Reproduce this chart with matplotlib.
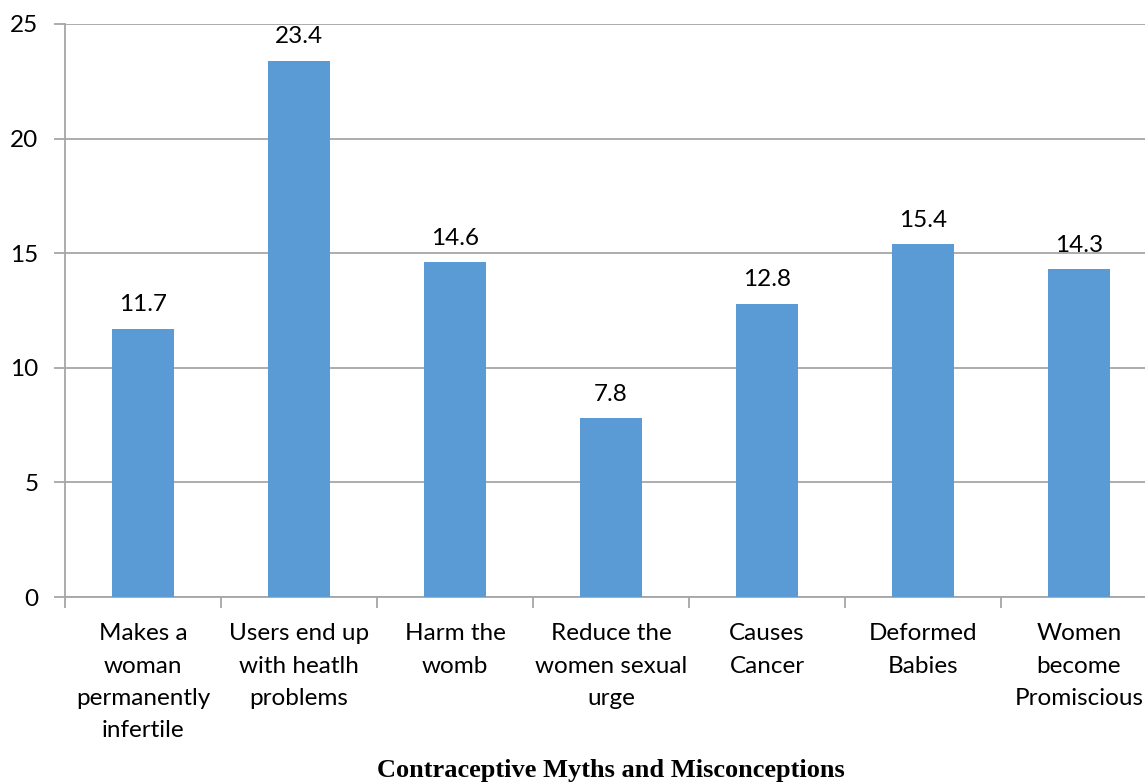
import matplotlib
matplotlib.use("Agg")
import matplotlib.pyplot as plt
import numpy as np

categories = [
    "Makes a\nwoman\npermanently\ninfertile",
    "Users end up\nwith heatlh\nproblems",
    "Harm the\nwomb",
    "Reduce the\nwomen sexual\nurge",
    "Causes\nCancer",
    "Deformed\nBabies",
    "Women\nbecome\nPromiscious",
]
values = [11.7, 23.4, 14.6, 7.8, 12.8, 15.4, 14.3]
y_ticks = [0, 5, 10, 15, 20, 25]
caption = "Contraceptive Myths and Misconceptions"

W, H = 1145, 782
fig = plt.figure(figsize=(W / 100, H / 100), dpi=100)
# plot area in pixels: left 65, right 1157, top 24, bottom 597
ax = fig.add_axes([65 / W, (H - 597) / H, 1092 / W, 573 / H])

bar_color = "#5B9BD5"
grid_color = "#A6A6A6"
label_font = "Lato"
fs = 17.5

x = np.arange(len(categories))
ax.bar(x, values, width=0.4, color=bar_color, zorder=3)

for xi, v in zip(x, values):
    ax.annotate(f"{v:.1f}", (xi, v), xytext=(0, 12.5), textcoords="offset points",
                ha="center", va="baseline", fontsize=fs, family=label_font,
                color="black")

ax.set_xlim(-0.5, len(categories) - 0.5)
ax.set_ylim(0, 25)
ax.set_yticks(y_ticks)
ax.set_yticklabels([str(t) for t in y_ticks], fontsize=fs, family=label_font)
ax.yaxis.grid(True, color=grid_color, linewidth=1.3, zorder=0)
ax.set_axisbelow(True)

ax.set_xticks(x)
ax.set_xticklabels(categories, fontsize=fs, family=label_font,
                   linespacing=1.66)
ax.tick_params(axis="x", which="major", length=0, pad=19)
ax.set_xticks(np.arange(len(categories) + 1) - 0.5, minor=True)
ax.tick_params(axis="x", which="minor", length=8, width=1.3, color=grid_color)
ax.tick_params(axis="y", length=8, width=1.3, color=grid_color, pad=11)

for side in ("top", "right"):
    ax.spines[side].set_visible(False)
for side in ("left", "bottom"):
    ax.spines[side].set_color(grid_color)
    ax.spines[side].set_linewidth(1.3)

fig.text(611 / W, 1 - 777 / H, caption, ha="center", va="baseline",
         fontsize=19, fontweight="bold", family="Liberation Serif")

fig.savefig("out.png", dpi=100, facecolor="white")
